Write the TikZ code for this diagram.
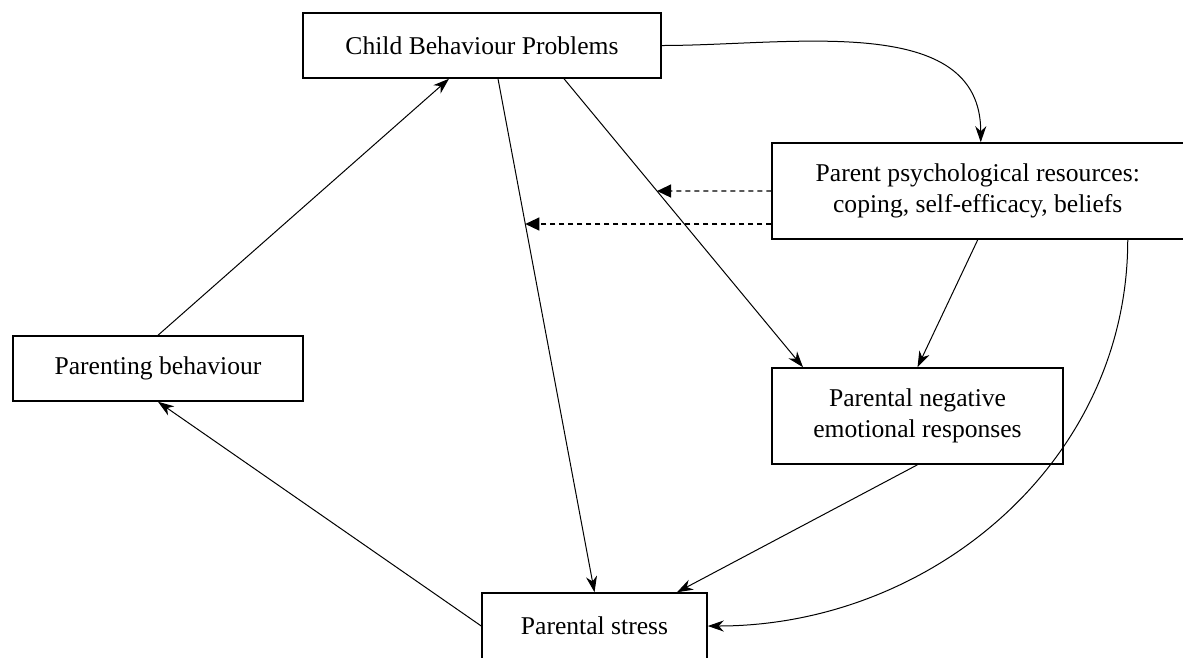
\documentclass[tikz,border=0pt]{standalone}
\usepackage{fontspec}
\setmainfont{Liberation Serif}
\usetikzlibrary{arrows.meta}
\begin{document}
\begin{tikzpicture}[
    box/.style={draw, line width=1.5pt, inner sep=0pt, align=center, font=\fontsize{25.6}{30.7}\selectfont},
    link/.style={-{Stealth[length=16pt,width=11pt,inset=5pt]}, line width=1pt},
    modlink/.style={-{Triangle[length=14pt,width=13pt]}, line width=1.3pt, dash pattern=on 5pt off 4pt}
]
    \useasboundingbox (0,0) rectangle (1183pt,-657pt);
    \node[box, minimum width=358pt, minimum height=65pt] (cbp) at (482pt,-45.5pt) {Child Behaviour Problems};
    \node[box, minimum width=411.5pt, minimum height=96pt] (ppr) at (977.75pt,-191pt) {Parent psychological resources:\\coping, self-efficacy, beliefs};
    \node[box, minimum width=290pt, minimum height=65pt] (pb) at (158pt,-368.5pt) {Parenting behaviour};
    \node[box, minimum width=291pt, minimum height=96pt] (pne) at (917.5pt,-416pt) {Parental negative\\emotional responses};
    \node[box, minimum width=225pt, minimum height=66pt] (ps) at (594.5pt,-626pt) {Parental stress};
    \coordinate (cbp-r) at ([xshift=82pt]cbp.south);
    \coordinate (cbp-m) at ([xshift=16pt]cbp.south);
    \coordinate (pne-l) at ([xshift=-114.5pt]pne.north);
    \coordinate (ppr-w2) at ([yshift=-33pt]ppr.west);
    \coordinate (ppr-e2) at ([yshift=-33pt]ppr.east);
    \coordinate (hit1) at (intersection of cbp-r--pne-l and ppr.west--ppr.east);
    \coordinate (hit2) at (intersection of cbp-m--ps.north and ppr-w2--ppr-e2);
    \draw[link] (pb.north) -- ([xshift=-33pt]cbp.south);
    \draw[link] (cbp-m) -- (ps.north);
    \draw[link] (cbp-r) -- (pne-l);
    \draw[link] (cbp.east) to[out=0, in=90] ([xshift=3pt]ppr.north);
    \draw[link] (ppr.south) -- (pne.north);
    \draw[link] ([xshift=150pt]ppr.south) to[out=-90, in=0] (ps.east);
    \draw[link] (pne.south) -- ([xshift=82.5pt]ps.north);
    \draw[link] (ps.west) -- (pb.south);
    \draw[modlink] (ppr.west) -- (hit1);
    \draw[modlink] (ppr-w2) -- (hit2);
\end{tikzpicture}
\end{document}
